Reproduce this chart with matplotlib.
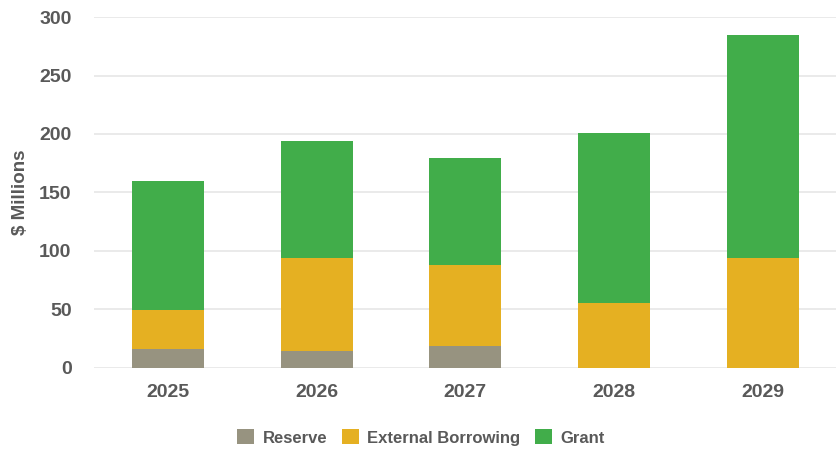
import matplotlib.pyplot as plt
import numpy as np

plt.rcParams['font.family'] = ['Liberation Sans', 'DejaVu Sans']

# Funding sources by year ($ millions)
years = ['2025', '2026', '2027', '2028', '2029']
reserve = [16, 14, 18.5, 0, 0]
external_borrowing = [33.5, 79.5, 69, 55.5, 93.5]
grant = [110.5, 100.5, 91.5, 145, 191.5]

colors = {'Reserve': '#979380', 'External Borrowing': '#E5B022', 'Grant': '#41AD4A'}
text_color = '#595959'

fig = plt.figure(figsize=(8.37, 4.51), dpi=100)
ax = fig.add_axes([0.112, 0.185, 0.888, 0.777])

x = np.arange(len(years))
width = 0.484
bottom = np.zeros(len(years))
for name, vals in [('Reserve', reserve), ('External Borrowing', external_borrowing), ('Grant', grant)]:
    ax.bar(x, vals, width, bottom=bottom, color=colors[name], label=name, zorder=2)
    bottom += np.array(vals)

ax.set_xlim(-0.5, 4.5)
ax.set_ylim(0, 300)
ax.set_yticks(range(0, 301, 50))
ax.set_xticks(x)
ax.set_xticklabels(years)
ax.yaxis.grid(True, color='#E6E6E6', linewidth=1.2, zorder=0)
ax.set_axisbelow(True)
for s in ax.spines.values():
    s.set_visible(False)
ax.tick_params(axis='both', length=0, labelsize=14, labelcolor=text_color)
ax.tick_params(axis='y', pad=16)
ax.tick_params(axis='x', pad=12)
for lbl in ax.get_xticklabels() + ax.get_yticklabels():
    lbl.set_fontweight('bold')

ax.set_ylabel('\\$ Millions', fontsize=13.5, fontweight='bold', color=text_color, labelpad=7)

leg = fig.legend(loc='center', bbox_to_anchor=(0.503, 0.03), ncol=3, frameon=False,
                 prop={'weight': 'bold', 'size': 12}, handlelength=1.0, handleheight=1.0,
                 columnspacing=0.9, handletextpad=0.5)
for t in leg.get_texts():
    t.set_color(text_color)

fig.savefig('out.png', dpi=100)
